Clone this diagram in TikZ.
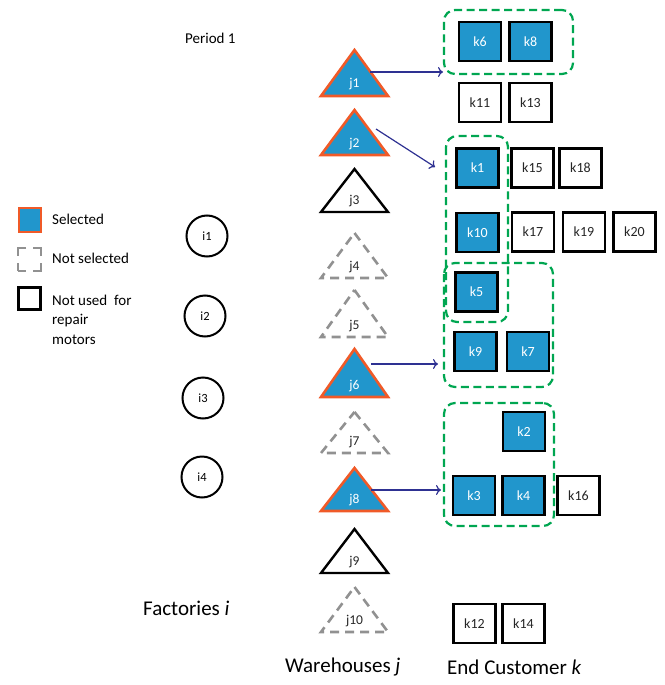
\documentclass[tikz,border=0pt]{standalone}
\usepackage{fontspec}
\setmainfont{Carlito}
\usetikzlibrary{arrows.meta}
\definecolor{selblue}{RGB}{33,150,204}
\definecolor{selorange}{RGB}{240,90,40}
\definecolor{grpgreen}{RGB}{0,166,81}
\definecolor{nsgray}{RGB}{145,145,145}
\definecolor{arrnavy}{RGB}{46,49,146}
\tikzset{
  kbox/.style={draw=black, line width=2.4pt, minimum width=42pt, minimum height=39pt, inner sep=0pt, font=\fontsize{14}{15}\selectfont},
  ksel/.style={kbox, fill=selblue, text=white},
  kfree/.style={kbox, fill=white, text=black!85},
  grp/.style={draw=grpgreen, line width=2.2pt, dash pattern=on 8pt off 4.5pt, rounded corners=11pt},
  trisel/.style={draw=selorange, fill=selblue, line width=2.6pt, line join=miter},
  trifree/.style={draw=black, line width=2.4pt},
  trins/.style={draw=nsgray, line width=2.6pt, dash pattern=on 9pt off 6pt},
  jlab/.style={inner sep=0pt, font=\fontsize{13.5}{15}\selectfont},
  ilab/.style={draw=black, line width=2pt, circle, minimum size=41pt, inner sep=0pt, font=\fontsize{12.5}{14}\selectfont},
  conn/.style={draw=arrnavy, line width=1.2pt, -{To[length=5pt,width=10pt]}},
  legtxt/.style={anchor=west, inner sep=0pt, font=\fontsize{15}{19.5}\selectfont},
  bigtxt/.style={inner sep=0pt, font=\fontsize{21}{24}\selectfont}
}
\newcommand{\mytri}[6]{% name, cx, apexy, basey, style, label
  \draw[#5] (#2,#3) -- (#2+33.5,#4) -- (#2-33.5,#4) -- cycle;
  \node[jlab, text=#6] (#1) at (#2,#4-11) {\strut #1};
}
\begin{document}
\begin{tikzpicture}[x=1pt,y=-1pt]
\useasboundingbox (0,0) rectangle (664,685);

% groups
\node[grp, minimum width=129pt, minimum height=64pt, inner sep=0pt] (g1) at (508.5,42) {};
\draw[grp] (446,136) rectangle (508,322);
\coordinate (g2) at (446,229);
\draw[grp] (444,263) rectangle (553,387);
\coordinate (g3) at (444,325);
\node[grp, minimum width=110pt, minimum height=123pt, inner sep=0pt] (g4) at (499,464.5) {};

% triangles
\mytri{j1}{354.5}{50}{96}{trisel}{white}
\mytri{j2}{354.5}{110}{155}{trisel}{white}
\mytri{j3}{354.5}{169}{212}{trifree}{black!85}
\mytri{j4}{354.5}{233}{278}{trins}{black!85}
\mytri{j5}{354.5}{290}{337}{trins}{black!85}
\mytri{j6}{354.5}{349}{397}{trisel}{white}
\mytri{j7}{354.5}{412}{453}{trins}{black!85}
\mytri{j8}{354.5}{468}{511}{trisel}{white}
\mytri{j9}{354.5}{529}{573}{trifree}{black!85}
\mytri{j10}{354.5}{587}{632}{trins}{black!85}

% customers
\node[ksel] (k6) at (480,41.5) {k6};
\node[ksel] (k8) at (530.5,41.5) {k8};
\node[kfree] (k11) at (480,102.5) {k11};
\node[kfree] (k13) at (530.5,102.5) {k13};
\node[ksel] (k1) at (477.5,168) {k1};
\node[kfree] (k15) at (532.5,168) {k15};
\node[kfree] (k18) at (580.5,168) {k18};
\node[ksel] (k10) at (477.5,232.5) {k10};
\node[kfree] (k17) at (533,232) {k17};
\node[kfree] (k19) at (584,232) {k19};
\node[kfree] (k20) at (634.5,232) {k20};
\node[ksel] (k5) at (476.5,292) {k5};
\node[ksel] (k9) at (475.5,351.5) {k9};
\node[ksel] (k7) at (528,351.5) {k7};
\node[ksel] (k2) at (524,431.5) {k2};
\node[ksel] (k3) at (474,495.5) {k3};
\node[ksel] (k4) at (523.5,495.5) {k4};
\node[kfree] (k16) at (578.5,495.5) {k16};
\node[kfree] (k12) at (474.5,623.5) {k12};
\node[kfree] (k14) at (523.5,623.5) {k14};

% arrows
\coordinate (a1s) at (370,72);   \coordinate (a1e) at (443,72);
\coordinate (a2s) at (376,129);  \coordinate (a2e) at (435,167);
\coordinate (a6s) at (371,364);  \coordinate (a6e) at (438,364);
\coordinate (a8s) at (371,490);  \coordinate (a8e) at (441,490);
\draw[conn] (a1s) -- (a1e);
\draw[conn] (a2s) -- (a2e);
\draw[conn] (a6s) -- (a6e);
\draw[conn] (a8s) -- (a8e);

% factories
\node[ilab] (i1) at (207,236) {i1};
\node[ilab] (i2) at (205,316) {i2};
\node[ilab] (i3) at (203,398) {i3};
\node[ilab] (i4) at (202,477) {i4};

% legend
\node[draw=selorange, fill=selblue, line width=2.4pt, minimum width=22pt, minimum height=24pt, inner sep=0pt] (lsel) at (30,220) {};
\node[legtxt] (tsel) at (52,219) {Selected};
\node[draw=nsgray, line width=2.4pt, minimum width=23pt, minimum height=23pt, inner sep=0pt, dash pattern=on 16pt off 7pt, dash phase=8pt] (lns) at (29.5,259.5) {};
\node[legtxt] (tns) at (52,258) {Not selected};
\node[draw=black, line width=2.4pt, minimum width=22pt, minimum height=22pt, inner sep=0pt] (lnu) at (29.5,298.5) {};
\node[legtxt, anchor=north west, align=left] (tnu) at (52,294.5) {Not used\ \ for\\repair\\motors};

% titles
\node[legtxt] (per) at (185,38) {Period 1};
\node[bigtxt, anchor=west] (fac) at (143,608) {Factories \textit{i}};
\node[bigtxt, anchor=west] (war) at (285,667) {Warehouses \textit{j}};
\node[bigtxt, anchor=west] (end) at (447,667) {End Customer \textit{k}};
\end{tikzpicture}
\end{document}
